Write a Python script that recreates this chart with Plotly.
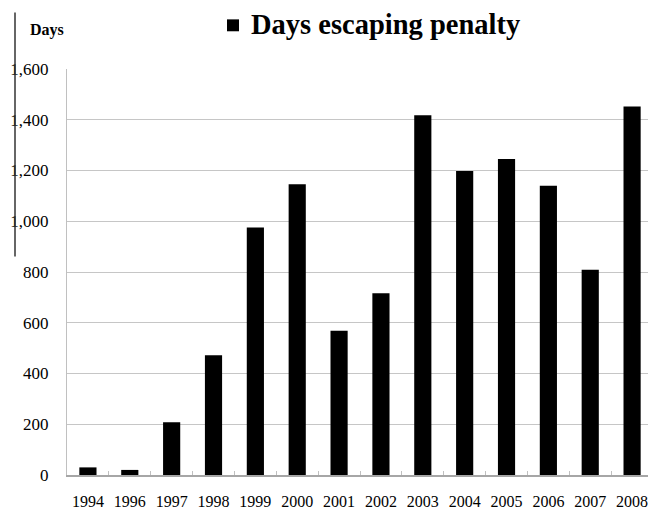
import plotly.graph_objects as go

years = ["1994", "1996", "1997", "1998", "1999", "2000", "2001",
         "2002", "2003", "2004", "2005", "2006", "2007", "2008"]
days = [30, 20, 208, 472, 975, 1146, 568, 716, 1418, 1198, 1245, 1140, 809, 1452]
y_ticks = [0, 200, 400, 600, 800, 1000, 1200, 1400, 1600]
series_name = "Days escaping penalty"

W, H = 648, 510
L, R, T, B = 67, 0, 69, 32
pw, ph = W - L - R, H - T - B

def px(x):
    return (x - L) / pw

def py(y):
    return (H - B - y) / ph

SERIF = "Liberation Serif, Times New Roman, serif"

fig = go.Figure(go.Bar(x=years, y=days, marker=dict(color="black", line=dict(width=0)),
                       name=series_name, showlegend=False))

fig.update_layout(
    width=W, height=H,
    margin=dict(l=L, r=R, t=T, b=B),
    paper_bgcolor="white", plot_bgcolor="white",
    bargap=0.59,
    font=dict(family=SERIF, color="black"),
    xaxis=dict(type="category", range=[-0.5, 13.38], showgrid=False,
               showline=True, linecolor="#a6a6a6", linewidth=1.5,
               tickson="boundaries", ticks="inside", ticklen=4, tickcolor="#c0c0c0",
               tickfont=dict(size=16, family=SERIF, color="black"),
               ticklabelstandoff=11),
    yaxis=dict(range=[0, 1600], tickvals=y_ticks, tickformat=",",
               showgrid=True, gridcolor="#c6c6c6", gridwidth=1.3,
               showline=True, linecolor="#c0c0c0", linewidth=1.3,
               zeroline=False, ticks="",
               tickfont=dict(size=17, family=SERIF, color="black"),
               ticklabelstandoff=14),
    shapes=[
        dict(type="line", xref="paper", yref="paper", x0=px(15), x1=px(15),
             y0=py(258), y1=py(12), line=dict(color="#333333", width=1.5)),
        dict(type="rect", xref="paper", yref="paper", x0=px(227), x1=px(239),
             y0=py(31), y1=py(19), fillcolor="black", line=dict(width=0)),
    ],
    annotations=[
        dict(text="<b>" + series_name + "</b>", xref="paper", yref="paper",
             x=px(249), y=py(24), xanchor="left", yanchor="middle", showarrow=False,
             font=dict(size=28.5, family=SERIF, color="black")),
        dict(text="<b>Days</b>", xref="paper", yref="paper",
             x=px(28), y=py(30), xanchor="left", yanchor="middle", showarrow=False,
             font=dict(size=16, family=SERIF, color="black")),
    ],
)

fig.write_html("out.html")
